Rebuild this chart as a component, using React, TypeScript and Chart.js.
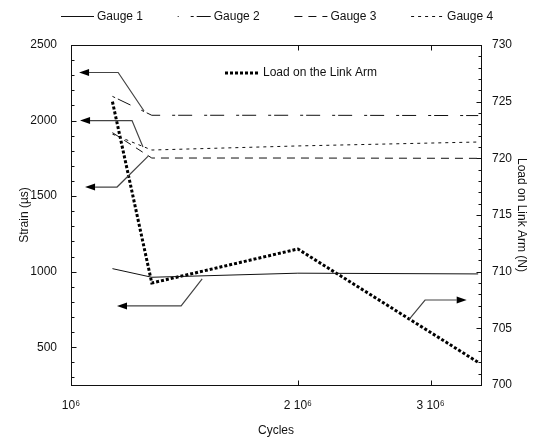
import React, { useEffect, useRef } from 'react';
import { Chart, registerables } from 'chart.js';

Chart.register(...registerables);

// ---- data ----
const cycles = [1.135e6, 1.28e6, 2.0e6, 3.47e6];
const gauge1 = [1020, 963, 990, 985];
const gauge2 = [2160, 2035, 2035, 2033];
const gauge3 = [1920, 1752, 1752, 1750];
const gauge4 = [1910, 1805, 1832, 1858];
const loadN = [725, 709, 712, 702];

const gaugeNames = ['Gauge 1', 'Gauge 2', 'Gauge 3', 'Gauge 4'];
const loadName = 'Load on the Link Arm';
const xTickValues = [1e6, 2e6, 3e6];
const xTickLabels = ['10\u2076', '2 10\u2076', '3 10\u2076'];
const strainTicks = [500, 1000, 1500, 2000, 2500];
const loadTicks = [700, 705, 710, 715, 720, 725, 730];

// callout arrows, in data coordinates (x: cycles, y: value on the given axis)
const callouts = [
  { axis: 'y', pts: [[1.25e6, 2063], [1.155e6, 2318], [1.025e6, 2318]] },
  { axis: 'y', pts: [[1.246e6, 1825], [1.205e6, 2000], [1.028e6, 2000]] },
  { axis: 'y', pts: [[1.266e6, 1765], [1.151e6, 1560], [1.044e6, 1560]] },
  { axis: 'y', pts: [[1.493e6, 952], [1.4e6, 773], [1.151e6, 773]] },
  { axis: 'y1', pts: [[2.81e6, 705.8], [2.95e6, 707.5], [3.35e6, 707.5]] },
];

const FONT = '"Liberation Sans", Arial, Helvetica, sans-serif';
const gaugeDashes: number[][] = [[], [3, 3, 14, 12], [8, 6], [3, 4]];
const legendDashOffsets = [0, 19, 0, 0];
const loadDash = [3, 2];

const decorPlugin = {
  id: 'decor',
  afterDatasetsDraw(chart: any) {
    const { ctx, chartArea: a, scales } = chart;
    const xs = scales.x, ys = scales.y, yr = scales.y1;
    const L = Math.round(a.left) + 0.5, R = Math.round(a.right) + 0.5;
    const T = Math.round(a.top) + 0.5, B = Math.round(a.bottom) + 0.5;
    ctx.save();
    ctx.setLineDash([]);
    ctx.strokeStyle = '#111';
    ctx.lineWidth = 1;
    ctx.strokeRect(L, T, R - L, B - T);

    ctx.beginPath();
    // left ticks
    for (let v = 300; v < 2500; v += 100) {
      const y = Math.round(ys.getPixelForValue(v)) + 0.5;
      const len = v % 500 === 0 ? 5 : 3;
      ctx.moveTo(L, y); ctx.lineTo(L + len, y);
    }
    // right ticks
    for (let v = 701; v < 730; v += 1) {
      const y = Math.round(yr.getPixelForValue(v)) + 0.5;
      const len = v % 5 === 0 ? 5 : 3;
      ctx.moveTo(R, y); ctx.lineTo(R - len, y);
    }
    // top / bottom ticks
    for (const v of xTickValues.slice(1)) {
      const x = Math.round(xs.getPixelForValue(v)) + 0.5;
      ctx.moveTo(x, B); ctx.lineTo(x, B - 5);
      ctx.moveTo(x, T); ctx.lineTo(x, T + 5);
    }
    ctx.stroke();

    // callout arrows
    for (const c of callouts) {
      const sc = c.axis === 'y' ? ys : yr;
      const p = c.pts.map(([x, y]) => [xs.getPixelForValue(x), sc.getPixelForValue(y)]);
      const n = p.length;
      const [tx, ty] = p[n - 1];
      const [px, py] = p[n - 2];
      const ang = Math.atan2(ty - py, tx - px);
      const hl = 10, hw = 3.5;
      const bx = tx - hl * Math.cos(ang), by = ty - hl * Math.sin(ang);
      ctx.strokeStyle = '#444';
      ctx.lineWidth = 1.2;
      ctx.beginPath();
      ctx.moveTo(p[0][0], p[0][1]);
      for (let i = 1; i < n - 1; i++) ctx.lineTo(p[i][0], p[i][1]);
      ctx.lineTo(bx, by);
      ctx.stroke();
      ctx.fillStyle = '#000';
      ctx.beginPath();
      ctx.moveTo(tx, ty);
      ctx.lineTo(bx + hw * Math.sin(ang), by - hw * Math.cos(ang));
      ctx.lineTo(bx - hw * Math.sin(ang), by + hw * Math.cos(ang));
      ctx.closePath();
      ctx.fill();
    }

    // top legend
    ctx.font = `12px ${FONT}`;
    ctx.textBaseline = 'middle';
    ctx.textAlign = 'left';
    ctx.fillStyle = '#111';
    const ly = 16.5;
    gaugeNames.forEach((name, i) => {
      const tx = 97 + i * 116.7;
      ctx.strokeStyle = '#111';
      ctx.lineWidth = 1;
      ctx.setLineDash(gaugeDashes[i]);
      ctx.lineDashOffset = legendDashOffsets[i];
      ctx.beginPath();
      ctx.moveTo(tx - 36, ly); ctx.lineTo(tx - 3, ly);
      ctx.stroke();
      ctx.setLineDash([]);
      ctx.lineDashOffset = 0;
      ctx.fillText(name, tx, ly);
    });

    // inner legend for load
    const ix = a.left + 154, iy = a.top + 28;
    ctx.strokeStyle = '#000';
    ctx.lineWidth = 3;
    ctx.setLineDash(loadDash);
    ctx.beginPath();
    ctx.moveTo(ix, iy); ctx.lineTo(ix + 33, iy);
    ctx.stroke();
    ctx.setLineDash([]);
    ctx.fillText(loadName, ix + 38, iy);
    ctx.restore();
  },
};

export default function App() {
  const ref = useRef<HTMLCanvasElement>(null);
  useEffect(() => {
    document.body.style.margin = '0';
    const canvas = ref.current!;
    const mk = (arr: number[]) => cycles.map((c, i) => ({ x: c, y: arr[i] }));
    const gauges = [gauge1, gauge2, gauge3, gauge4];
    const font = { family: FONT, size: 12 };
    const plain = (v: any) => String(v);
    const chart = new Chart(canvas, {
      type: 'line',
      data: {
        datasets: [
          ...gauges.map((g, i) => ({
            label: gaugeNames[i],
            data: mk(g),
            borderColor: '#111',
            borderWidth: 1,
            borderDash: gaugeDashes[i],
            pointRadius: 0,
            tension: 0,
            yAxisID: 'y',
          })),
          {
            label: loadName,
            data: mk(loadN),
            borderColor: '#000',
            borderWidth: 3,
            borderDash: loadDash,
            borderCapStyle: 'butt',
            pointRadius: 0,
            tension: 0,
            yAxisID: 'y1',
          },
        ],
      },
      options: {
        responsive: false,
        animation: false,
        devicePixelRatio: 1,
        layout: { padding: { top: 45, left: 0, right: 0, bottom: 0 } },
        plugins: { legend: { display: false }, tooltip: { enabled: false } },
        scales: {
          x: {
            type: 'logarithmic',
            position: 'bottom',
            min: 1e6,
            max: 3.5e6,
            grid: { display: false, drawTicks: false },
            border: { display: false },
            afterBuildTicks: (s: any) => { s.ticks = xTickValues.map((v) => ({ value: v })); },
            ticks: {
              autoSkip: false,
              maxRotation: 0,
              padding: 13,
              color: '#111',
              font,
              callback: (v: any) => {
                const i = xTickValues.indexOf(Number(v));
                return i >= 0 ? xTickLabels[i] : '';
              },
            },
            title: { display: true, text: 'Cycles', color: '#111', font, padding: { top: 9, bottom: 0 } },
            afterFit: (s: any) => { s.height = 53; },
          },
          y: {
            type: 'linear',
            position: 'left',
            min: 250,
            max: 2500,
            grid: { display: false, drawTicks: false },
            border: { display: false },
            afterBuildTicks: (s: any) => { s.ticks = strainTicks.map((v) => ({ value: v })); },
            ticks: { padding: 14, color: '#111', font, callback: plain },
            title: { display: true, text: 'Strain (\u00b5s)', color: '#111', font, padding: { top: 17, bottom: 0 } },
            afterFit: (s: any) => { s.width = 71; },
          },
          y1: {
            type: 'linear',
            position: 'right',
            min: 700,
            max: 730,
            grid: { display: false, drawTicks: false },
            border: { display: false },
            afterBuildTicks: (s: any) => { s.ticks = loadTicks.map((v) => ({ value: v })); },
            ticks: { padding: 11, color: '#111', font, callback: plain },
            title: { display: true, text: 'Load on Link Arm (N)', color: '#111', font, padding: { top: 4, bottom: 0 } },
            afterFit: (s: any) => { s.width = 52; },
          },
        },
      },
      plugins: [decorPlugin],
    } as any);
    return () => chart.destroy();
  }, []);
  return <canvas ref={ref} width={533} height={438} style={{ display: 'block' }} />;
}
